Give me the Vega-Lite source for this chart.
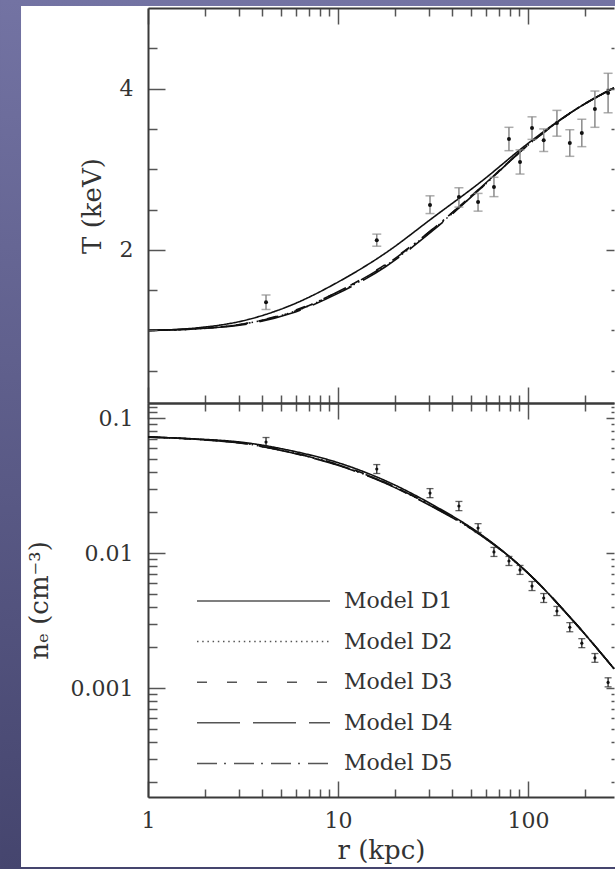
{
  "$schema": "https://vega.github.io/schema/vega-lite/v6.json",
  "background": "#5c5c88",
  "padding": 0,
  "bounds": "flush",
  "spacing": 0,
  "config": {
    "view": {"stroke": null},
    "axis": {
      "grid": false,
      "domainColor": "#3a3a3a",
      "domainWidth": 2,
      "tickColor": "#555555",
      "tickWidth": 1.5,
      "labelFont": "DejaVu Serif",
      "labelFontSize": 22,
      "labelColor": "#333333",
      "titleFont": "DejaVu Serif",
      "titleFontSize": 26,
      "titleFontWeight": "normal",
      "titleColor": "#333333",
      "labelFlush": false,
      "labelOverlap": false,
      "labelBound": false
    }
  },
  "datasets": {
    "curves": [
      {"model": "Model D1", "r": 1, "T": 1.00, "n": 0.0723},
      {"model": "Model D1", "r": 1.778, "T": 1.03, "n": 0.0700},
      {"model": "Model D1", "r": 3.162, "T": 1.12, "n": 0.0660},
      {"model": "Model D1", "r": 5.623, "T": 1.31, "n": 0.0574},
      {"model": "Model D1", "r": 10, "T": 1.60, "n": 0.0467},
      {"model": "Model D1", "r": 17.78, "T": 1.96, "n": 0.0343},
      {"model": "Model D1", "r": 31.62, "T": 2.40, "n": 0.0227},
      {"model": "Model D1", "r": 56.23, "T": 2.84, "n": 0.0138},
      {"model": "Model D1", "r": 100, "T": 3.32, "n": 0.0071},
      {"model": "Model D1", "r": 177.8, "T": 3.74, "n": 0.00301},
      {"model": "Model D1", "r": 283.6, "T": 4.01, "n": 0.00139},
      {"model": "Model D2", "r": 1, "T": 1.00, "n": 0.0723},
      {"model": "Model D2", "r": 1.778, "T": 1.02, "n": 0.0696},
      {"model": "Model D2", "r": 3.162, "T": 1.08, "n": 0.0650},
      {"model": "Model D2", "r": 5.623, "T": 1.22, "n": 0.0557},
      {"model": "Model D2", "r": 10, "T": 1.47, "n": 0.0448},
      {"model": "Model D2", "r": 17.78, "T": 1.80, "n": 0.0330},
      {"model": "Model D2", "r": 31.62, "T": 2.25, "n": 0.0220},
      {"model": "Model D2", "r": 56.23, "T": 2.76, "n": 0.0136},
      {"model": "Model D2", "r": 100, "T": 3.30, "n": 0.0071},
      {"model": "Model D2", "r": 177.8, "T": 3.74, "n": 0.00301},
      {"model": "Model D2", "r": 283.6, "T": 4.01, "n": 0.00139},
      {"model": "Model D3", "r": 1, "T": 1.00, "n": 0.0723},
      {"model": "Model D3", "r": 1.778, "T": 1.02, "n": 0.0697},
      {"model": "Model D3", "r": 3.162, "T": 1.08, "n": 0.0652},
      {"model": "Model D3", "r": 5.623, "T": 1.23, "n": 0.0560},
      {"model": "Model D3", "r": 10, "T": 1.48, "n": 0.0452},
      {"model": "Model D3", "r": 17.78, "T": 1.82, "n": 0.0333},
      {"model": "Model D3", "r": 31.62, "T": 2.26, "n": 0.0222},
      {"model": "Model D3", "r": 56.23, "T": 2.77, "n": 0.0137},
      {"model": "Model D3", "r": 100, "T": 3.30, "n": 0.0071},
      {"model": "Model D3", "r": 177.8, "T": 3.74, "n": 0.00301},
      {"model": "Model D3", "r": 283.6, "T": 4.01, "n": 0.00139},
      {"model": "Model D4", "r": 1, "T": 1.00, "n": 0.0723},
      {"model": "Model D4", "r": 1.778, "T": 1.02, "n": 0.0695},
      {"model": "Model D4", "r": 3.162, "T": 1.07, "n": 0.0648},
      {"model": "Model D4", "r": 5.623, "T": 1.21, "n": 0.0555},
      {"model": "Model D4", "r": 10, "T": 1.46, "n": 0.0446},
      {"model": "Model D4", "r": 17.78, "T": 1.79, "n": 0.0328},
      {"model": "Model D4", "r": 31.62, "T": 2.24, "n": 0.0219},
      {"model": "Model D4", "r": 56.23, "T": 2.76, "n": 0.0136},
      {"model": "Model D4", "r": 100, "T": 3.30, "n": 0.0071},
      {"model": "Model D4", "r": 177.8, "T": 3.74, "n": 0.00301},
      {"model": "Model D4", "r": 283.6, "T": 4.01, "n": 0.00139},
      {"model": "Model D5", "r": 1, "T": 1.00, "n": 0.0723},
      {"model": "Model D5", "r": 1.778, "T": 1.02, "n": 0.0697},
      {"model": "Model D5", "r": 3.162, "T": 1.08, "n": 0.0651},
      {"model": "Model D5", "r": 5.623, "T": 1.22, "n": 0.0558},
      {"model": "Model D5", "r": 10, "T": 1.48, "n": 0.0450},
      {"model": "Model D5", "r": 17.78, "T": 1.81, "n": 0.0331},
      {"model": "Model D5", "r": 31.62, "T": 2.26, "n": 0.0221},
      {"model": "Model D5", "r": 56.23, "T": 2.77, "n": 0.0137},
      {"model": "Model D5", "r": 100, "T": 3.30, "n": 0.0071},
      {"model": "Model D5", "r": 177.8, "T": 3.74, "n": 0.00301},
      {"model": "Model D5", "r": 283.6, "T": 4.01, "n": 0.00139}
    ],
    "obs": [
      {"r": 4.18, "T": 1.35, "Tlo": 1.26, "Thi": 1.44, "n": 0.0664, "nlo": 0.0615, "nhi": 0.0717},
      {"r": 16.0, "T": 2.12, "Tlo": 2.045, "Thi": 2.195, "n": 0.0419, "nlo": 0.0388, "nhi": 0.0452},
      {"r": 30.5, "T": 2.556, "Tlo": 2.45, "Thi": 2.67, "n": 0.0278, "nlo": 0.0257, "nhi": 0.0300},
      {"r": 43.3, "T": 2.655, "Tlo": 2.53, "Thi": 2.77, "n": 0.0223, "nlo": 0.0206, "nhi": 0.0241},
      {"r": 54.6, "T": 2.593, "Tlo": 2.48, "Thi": 2.70, "n": 0.01532, "nlo": 0.0142, "nhi": 0.0165},
      {"r": 66.2, "T": 2.779, "Tlo": 2.66, "Thi": 2.90, "n": 0.01019, "nlo": 0.00943, "nhi": 0.0110},
      {"r": 79.4, "T": 3.375, "Tlo": 3.23, "Thi": 3.52, "n": 0.00873, "nlo": 0.00808, "nhi": 0.00943},
      {"r": 90.8, "T": 3.09, "Tlo": 2.94, "Thi": 3.24, "n": 0.00749, "nlo": 0.00694, "nhi": 0.00809},
      {"r": 105, "T": 3.51, "Tlo": 3.37, "Thi": 3.65, "n": 0.00569, "nlo": 0.00527, "nhi": 0.00615},
      {"r": 121, "T": 3.36, "Tlo": 3.22, "Thi": 3.50, "n": 0.00464, "nlo": 0.00430, "nhi": 0.00501},
      {"r": 142, "T": 3.573, "Tlo": 3.41, "Thi": 3.73, "n": 0.00372, "nlo": 0.00344, "nhi": 0.00402},
      {"r": 166, "T": 3.325, "Tlo": 3.16, "Thi": 3.49, "n": 0.00282, "nlo": 0.00261, "nhi": 0.00305},
      {"r": 192, "T": 3.449, "Tlo": 3.28, "Thi": 3.62, "n": 0.00215, "nlo": 0.00199, "nhi": 0.00232},
      {"r": 225, "T": 3.747, "Tlo": 3.52, "Thi": 3.97, "n": 0.00167, "nlo": 0.00155, "nhi": 0.00180},
      {"r": 264, "T": 3.945, "Tlo": 3.70, "Thi": 4.19, "n": 0.00110, "nlo": 0.00102, "nhi": 0.00119}
    ]
  },
  "resolve": {"legend": {"strokeDash": "independent"}},
  "vconcat": [
    {
      "width": 466,
      "height": 395,
      "layer": [
        {
          "data": {"values": [{}]},
          "mark": {"type": "rect", "stroke": null, "fill": {"gradient": "linear", "x1": 0, "y1": 0, "x2": 0, "y2": 1, "stops": [{"offset": 0, "color": "#7373a3"}, {"offset": 1, "color": "#45456e"}]}},
          "encoding": {
            "x": {"datum": 0.1664, "type": "quantitative", "scale": {"type": "log", "domain": [1, 283.6]},
              "axis": {"orient": "top", "zindex": 2, "values": [1, 2, 3, 4, 5, 6, 7, 8, 9, 10, 20, 30, 40, 50, 60, 70, 80, 90, 100, 200],
                "tickSize": {"condition": {"test": "datum.value == 1 || datum.value == 10 || datum.value == 100", "value": -16}, "value": -8},
                "labels": false, "title": null}},
            "x2": {"datum": 287.1},
            "y": {"datum": 5.0992, "type": "quantitative", "scale": {"domain": [0.1, 5], "zero": false, "nice": false},
              "axis": {"orient": "left", "zindex": 2, "values": [0.5, 1, 1.5, 2, 2.5, 3, 3.5, 4, 4.5],
                "tickSize": {"condition": {"test": "datum.value == 2 || datum.value == 4", "value": -17}, "value": -9},
                "labelExpr": "datum.value == 2 ? '2' : datum.value == 4 ? '4' : ''",
                "labelPadding": 32, "title": "T (keV)", "titlePadding": 14}},
            "y2": {"datum": -5.681}
          }
        },
        {
          "data": {"values": [{}]},
          "mark": {"type": "rect", "stroke": null, "fill": "#ffffff"},
          "encoding": {
            "x": {"datum": 0.2146, "type": "quantitative", "scale": {"type": "log", "domain": [1, 283.6]},
              "axis": {"orient": "bottom", "zindex": 2, "values": [1, 2, 3, 4, 5, 6, 7, 8, 9, 10, 20, 30, 40, 50, 60, 70, 80, 90, 100, 200],
                "tickSize": {"condition": {"test": "datum.value == 1 || datum.value == 10 || datum.value == 100", "value": -16}, "value": -8},
                "labels": false, "title": null}},
            "x2": {"datum": 287.1},
            "y": {"datum": 5.0248, "type": "quantitative", "scale": {"domain": [0.1, 5], "zero": false, "nice": false},
              "axis": {"orient": "right", "zindex": 2, "values": [0.5, 1, 1.5, 2, 2.5, 3, 3.5, 4, 4.5],
                "tickSize": {"condition": {"test": "datum.value == 2 || datum.value == 4", "value": -8}, "value": -3},
                "domain": false, "labels": false, "title": null}},
            "y2": {"datum": -5.656}
          }
        },
        {
          "data": {"name": "curves"},
          "mark": {"type": "line", "interpolate": "monotone", "stroke": "#111111", "strokeWidth": 1.6},
          "encoding": {
            "x": {"field": "r", "type": "quantitative", "scale": {"type": "log", "domain": [1, 283.6]}, "axis": null},
            "y": {"field": "T", "type": "quantitative", "scale": {"domain": [0.1, 5], "zero": false, "nice": false}, "axis": null},
            "strokeDash": {"field": "model", "type": "nominal",
              "scale": {"domain": ["Model D1", "Model D2", "Model D3", "Model D4", "Model D5"], "range": [[1, 0], [1.5, 3.7], [10, 20], [43, 13], [20, 7, 2, 8]]},
              "legend": null}
          }
        },
        {
          "data": {"name": "obs"},
          "mark": {"type": "errorbar", "ticks": true, "size": 9, "thickness": 1.5, "color": "#8a8a8a"},
          "encoding": {
            "x": {"field": "r", "type": "quantitative", "scale": {"type": "log", "domain": [1, 283.6]}, "axis": null},
            "y": {"field": "Tlo", "type": "quantitative", "scale": {"domain": [0.1, 5], "zero": false, "nice": false}, "axis": null},
            "y2": {"field": "Thi"}
          }
        },
        {
          "data": {"name": "obs"},
          "mark": {"type": "point", "filled": true, "size": 16, "color": "#111111", "opacity": 1},
          "encoding": {
            "x": {"field": "r", "type": "quantitative", "scale": {"type": "log", "domain": [1, 283.6]}, "axis": null},
            "y": {"field": "T", "type": "quantitative", "scale": {"domain": [0.1, 5], "zero": false, "nice": false}, "axis": null}
          }
        }
      ],
      "resolve": {"axis": {"x": "independent", "y": "independent"}}
    },
    {
      "width": 466,
      "height": 394,
      "layer": [
        {
          "data": {"name": "curves"},
          "mark": {"type": "line", "interpolate": "monotone", "stroke": "#111111", "strokeWidth": 1.6},
          "encoding": {
            "x": {"field": "r", "type": "quantitative", "scale": {"type": "log", "domain": [1, 283.6]},
              "axis": {"orient": "bottom", "values": [1, 2, 3, 4, 5, 6, 7, 8, 9, 10, 20, 30, 40, 50, 60, 70, 80, 90, 100, 200],
                "tickSize": {"condition": {"test": "datum.value == 1 || datum.value == 10 || datum.value == 100", "value": -16}, "value": -8},
                "labelExpr": "datum.value == 1 ? '1' : datum.value == 10 ? '10' : datum.value == 100 ? '100' : ''",
                "labelPadding": 29, "title": "r (kpc)", "titlePadding": -2}},
            "y": {"field": "n", "type": "quantitative", "scale": {"type": "log", "domain": [0.0001558, 0.1292]},
              "axis": {"orient": "left", "values": [0.0002, 0.0003, 0.0004, 0.0005, 0.0006, 0.0007, 0.0008, 0.0009, 0.001, 0.002, 0.003, 0.004, 0.005, 0.006, 0.007, 0.008, 0.009, 0.01, 0.02, 0.03, 0.04, 0.05, 0.06, 0.07, 0.08, 0.09, 0.1, 0.11, 0.12],
                "tickSize": {"condition": {"test": "datum.value == 0.1 || datum.value == 0.01 || datum.value == 0.001", "value": -17}, "value": -9},
                "labelExpr": "datum.value == 0.1 ? '0.1' : datum.value == 0.01 ? '0.01' : datum.value == 0.001 ? '0.001' : ''",
                "labelPadding": 32, "title": "nₑ (cm⁻³)", "titlePadding": 18}},
            "strokeDash": {"field": "model", "type": "nominal",
              "scale": {"domain": ["Model D1", "Model D2", "Model D3", "Model D4", "Model D5"], "range": [[1, 0], [1.5, 3.7], [10, 20], [43, 13], [20, 7, 2, 8]]},
              "legend": {"orient": "none", "legendX": 48, "legendY": 186, "title": null, "symbolType": "stroke", "symbolSize": 17689,
                "symbolStrokeWidth": 1.5, "symbolStrokeColor": "#555555", "clipHeight": 24, "rowPadding": 16.6,
                "labelFont": "DejaVu Serif", "labelFontSize": 22, "labelColor": "#333333", "labelOffset": 13, "padding": 0, "labelLimit": 400}}
          }
        },
        {
          "data": {"name": "obs"},
          "mark": {"type": "errorbar", "ticks": true, "size": 7, "thickness": 1.3, "color": "#222222"},
          "encoding": {
            "x": {"field": "r", "type": "quantitative", "scale": {"type": "log", "domain": [1, 283.6]}, "axis": null},
            "y": {"field": "nlo", "type": "quantitative", "scale": {"type": "log", "domain": [0.0001558, 0.1292]}, "axis": null},
            "y2": {"field": "nhi"}
          }
        },
        {
          "data": {"name": "obs"},
          "mark": {"type": "point", "filled": true, "size": 10, "color": "#111111", "opacity": 1},
          "encoding": {
            "x": {"field": "r", "type": "quantitative", "scale": {"type": "log", "domain": [1, 283.6]},
              "axis": {"orient": "top", "values": [1, 2, 3, 4, 5, 6, 7, 8, 9, 10, 20, 30, 40, 50, 60, 70, 80, 90, 100, 200],
                "tickSize": {"condition": {"test": "datum.value == 1 || datum.value == 10 || datum.value == 100", "value": -16}, "value": -8},
                "labels": false, "title": null}},
            "y": {"field": "n", "type": "quantitative", "scale": {"type": "log", "domain": [0.0001558, 0.1292]},
              "axis": {"orient": "right", "values": [0.0002, 0.0003, 0.0004, 0.0005, 0.0006, 0.0007, 0.0008, 0.0009, 0.001, 0.002, 0.003, 0.004, 0.005, 0.006, 0.007, 0.008, 0.009, 0.01, 0.02, 0.03, 0.04, 0.05, 0.06, 0.07, 0.08, 0.09, 0.1, 0.11, 0.12],
                "tickSize": {"condition": {"test": "datum.value == 0.1 || datum.value == 0.01 || datum.value == 0.001", "value": -8}, "value": -3},
                "domain": false, "labels": false, "title": null}}
          }
        }
      ],
      "resolve": {"axis": {"x": "independent", "y": "independent"}}
    }
  ]
}
